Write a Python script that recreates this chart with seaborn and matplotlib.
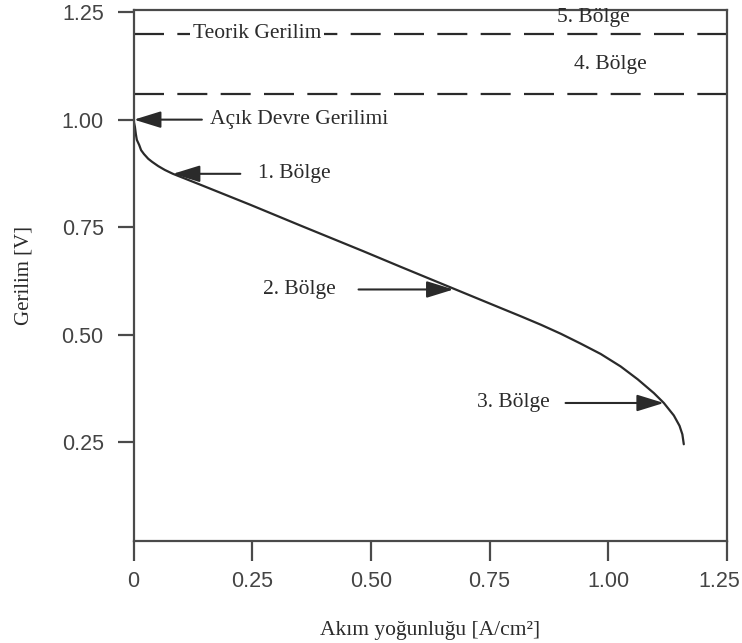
import numpy as np
import pandas as pd
import matplotlib
matplotlib.use("Agg")
import matplotlib.pyplot as plt
import matplotlib.transforms as mtransforms
import seaborn as sns

# ---- data ----
current_density = [0.000, 0.0004, 0.001, 0.003, 0.005, 0.007, 0.012, 0.016, 0.022,
                   0.031, 0.039, 0.052, 0.066, 0.083, 0.140, 0.246, 0.351, 0.484,
                   0.562, 0.674, 0.773, 0.815, 0.858, 0.900, 0.942, 0.984, 1.026,
                   1.062, 1.096, 1.117, 1.138, 1.150, 1.156, 1.159]
voltage = [1.105, 1.040, 0.994, 0.983, 0.966, 0.953, 0.941, 0.929, 0.920,
           0.909, 0.902, 0.892, 0.883, 0.874, 0.849, 0.802, 0.754, 0.694,
           0.658, 0.607, 0.562, 0.543, 0.523, 0.502, 0.479, 0.455, 0.426,
           0.396, 0.364, 0.341, 0.312, 0.288, 0.268, 0.245]

theoretical_voltage = 1.20
region4_lower = 1.06

x_ticks = [0, 0.25, 0.50, 0.75, 1.00, 1.25]
x_tick_labels = ["0", "0.25", "0.50", "0.75", "1.00", "1.25"]
y_ticks = [0.25, 0.50, 0.75, 1.00, 1.25]
y_tick_labels = ["0.25", "0.50", "0.75", "1.00", "1.25"]

# arrows: tail -> tip
ocv_tip = (0.001, 1.00)
ocv_tail = (0.144, 1.00)
b1_tip = (0.083, 0.874)
b1_tail = (0.225, 0.874)
b2_tip = (0.674, 0.605)
b2_tail = (0.474, 0.605)
b3_tip = (1.117, 0.341)
b3_tail = (0.910, 0.341)

df = pd.DataFrame({"j": current_density, "V": voltage})

sns.set_style("ticks")
plt.rcParams["font.family"] = ["Liberation Serif", "DejaVu Serif"]

fig = plt.figure(figsize=(7.42, 6.43), dpi=100)
ax = fig.add_axes([133.5 / 742, 1 - 541 / 643, (727 - 133.5) / 742, (541 - 10) / 643])

spine_c = "#4a4a4a"
text_c = "#2b2b2b"

sns.lineplot(data=df, x="j", y="V", sort=False, ax=ax, color="#2a2a2a", lw=1.6)
for ln in ax.get_lines():
    ln.set_solid_joinstyle("round")
    ln.set_solid_capstyle("round")

for yv in (theoretical_voltage, region4_lower):
    ax.axhline(yv, color="#2a2a2a", lw=1.6, dashes=(13.5, 6))

ax.set_xlim(0, 1.25)
ax.set_ylim(0.02, 1.255)
ax.set_xticks(x_ticks)
ax.set_xticklabels(x_tick_labels)
ax.set_yticks(y_ticks)
ax.set_yticklabels(y_tick_labels)

for s in ax.spines.values():
    s.set_visible(True)
    s.set_color(spine_c)
    s.set_linewidth(1.6)

ax.tick_params(axis="x", bottom=True, direction="out", length=14.5, width=1.6, color=spine_c,
               labelsize=15.5, labelcolor="#444444", pad=7)
ax.tick_params(axis="y", left=True, direction="out", length=11.5, width=1.6, color=spine_c,
               labelsize=15.5, labelcolor="#444444", pad=10)
for lab in ax.get_xticklabels() + ax.get_yticklabels():
    lab.set_family(["Liberation Sans", "DejaVu Sans"])
last = ax.get_xticklabels()[-1]
last.set_transform(last.get_transform() +
                   mtransforms.ScaledTranslation(-0.08, 0, fig.dpi_scale_trans))

ax.set_xlabel("Akım yoğunluğu [A/cm²]", fontsize=15.5, color=text_c)
ax.set_ylabel("Gerilim [V]", fontsize=15, color=text_c)
ax.xaxis.set_label_coords(0.5, -0.15)
ax.yaxis.set_label_coords(-0.169, 0.5)

arrow_kw = dict(arrowstyle="-|>,head_length=0.55,head_width=0.17", mutation_scale=30,
                color="#2a2a2a", lw=1.5, shrinkA=0, shrinkB=0)


def arrow(tail, tip):
    ax.annotate("", xy=tip, xytext=tail, arrowprops=arrow_kw)


arrow(ocv_tail, ocv_tip)
arrow(b1_tail, b1_tip)
arrow(b2_tail, b2_tip)
arrow(b3_tail, b3_tip)

fs = 15.5
ax.text(0.161, 1.00, "Açık Devre Gerilimi", fontsize=fs, color=text_c, ha="left", va="center")
ax.text(0.262, 0.874, "1. Bölge", fontsize=fs, color=text_c, ha="left", va="center")
ax.text(0.273, 0.605, "2. Bölge", fontsize=fs, color=text_c, ha="left", va="center")
ax.text(0.724, 0.341, "3. Bölge", fontsize=fs, color=text_c, ha="left", va="center")
ax.text(0.125, theoretical_voltage, "Teorik Gerilim", fontsize=fs, color=text_c,
        ha="left", va="center",
        bbox=dict(facecolor="white", edgecolor="none", pad=2))
ax.text(1.005, 1.128, "4. Bölge", fontsize=fs, color=text_c, ha="center", va="center")
ax.text(0.968, 1.237, "5. Bölge", fontsize=fs, color=text_c, ha="center", va="center")

fig.savefig("out.png", dpi=100)
